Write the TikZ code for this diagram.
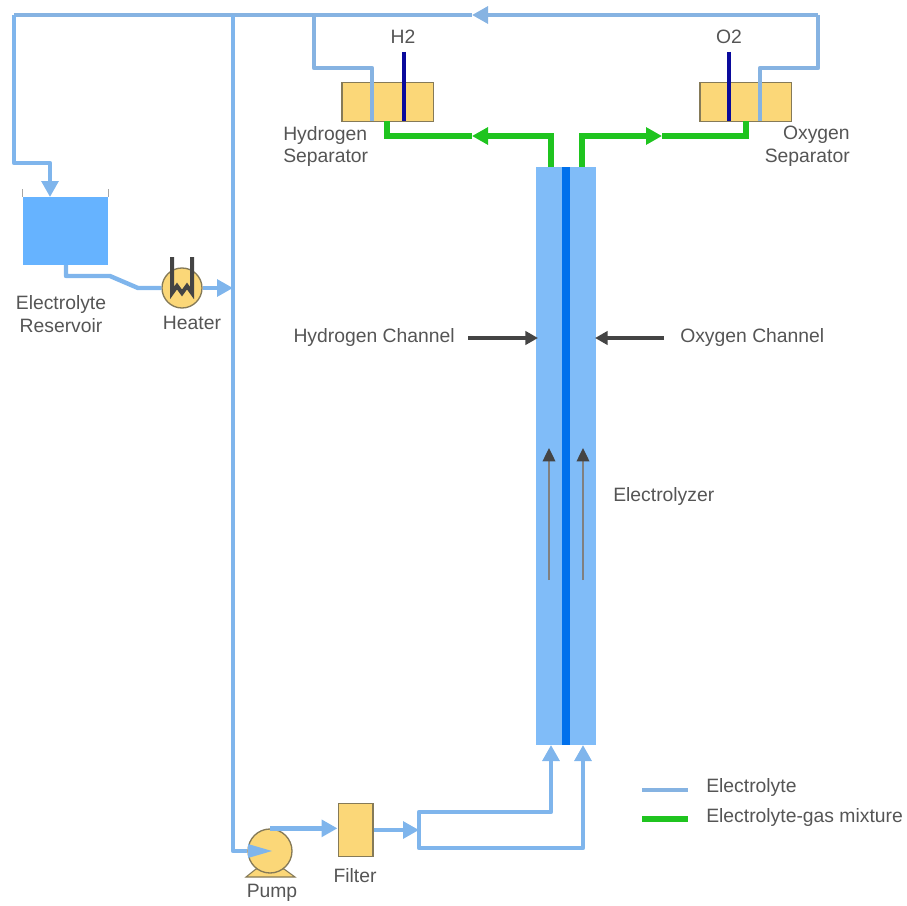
\documentclass[tikz,border=0pt]{standalone}
\usepackage{fontspec}
\setmainfont{Liberation Sans}
\usetikzlibrary{arrows.meta}
\definecolor{pipeblue}{HTML}{7FB5EC}
\definecolor{topblue}{HTML}{86B3E2}
\definecolor{cellblue}{HTML}{80BCF8}
\definecolor{tankblue}{HTML}{66B3FF}
\definecolor{coreblue}{HTML}{0070EC}
\definecolor{mixgreen}{HTML}{1FC41F}
\definecolor{partyellow}{HTML}{FBD778}
\definecolor{partedge}{HTML}{857A58}
\definecolor{rodblue}{HTML}{0A0A9C}
\definecolor{labelgray}{HTML}{555555}
\definecolor{markgray}{HTML}{444444}
\tikzset{
	part/.style={draw=partedge, fill=partyellow, line width=1pt, inner sep=0pt},
	sepbox/.style={part, minimum width=68.5pt, minimum height=29pt},
	pipe/.style={draw=pipeblue, line width=3.3pt, line join=round},
	toppipe/.style={draw=topblue, line width=3.3pt, line join=round},
	mixpipe/.style={draw=mixgreen, line width=3.8pt},
	flow/.style={-{Triangle[length=12pt, width=12.5pt]}},
	rod/.style={draw=rodblue, line width=3.2pt},
	callout/.style={draw=markgray, line width=3pt, -{Triangle[length=9.5pt, width=10pt]}},
	inner/.style={draw=gray, line width=1pt, -{Triangle[length=10pt, width=9.5pt, color=markgray]}},
	lbl/.style={text=labelgray, font=\fontsize{14.5}{17}\selectfont, inner sep=0pt},
}
\begin{document}
\begin{tikzpicture}[x=0.75pt, y=-0.75pt]
	\useasboundingbox (0,0) rectangle (907,906);
	% cell and vessels
	\node[fill=cellblue, minimum width=45pt, minimum height=433.5pt, inner sep=0pt] (cell) at (566,456) {};
	\node[fill=coreblue, minimum width=5.5pt, minimum height=433.5pt, inner sep=0pt] (core) at (566,456) {};
	\node[fill=tankblue, minimum width=64pt, minimum height=51pt, inner sep=0pt] (tank) at (65.5,231) {};
	\node[sepbox] (hsep) at (387.5,102) {};
	\node[sepbox] (osep) at (745.5,102) {};
	\node[part, minimum width=26pt, minimum height=40pt] (filter) at (355.5,830) {};
	\node[part, circle, minimum size=30pt] (heater) at (182,288) {};
	\draw[partedge, line width=0.8pt, fill=partyellow] (246,877) -- (256,869) -- (284,869) -- (295,877) -- cycle;
	\node[part, circle, minimum size=33pt] (pump) at (270,851) {};
	% tank rim
	\draw[gray!70, line width=0.6pt] (tank.north west) -- ++(0,-8) (tank.north east) -- ++(0,-8);
	% junctions
	\coordinate (topright) at (818,15);
	\coordinate (topmark) at (472,15);
	\coordinate (hbranch) at (314,15);
	\coordinate (mainbranch) at (233,15);
	\coordinate (topleft) at (14,15);
	\coordinate (tankturn) at (14,163);
	\coordinate (hport) at (372,121);
	\coordinate (oport) at (760,121);
	\coordinate (heaterjoin) at (233,288);
	\coordinate (splitin) at (419,830);
	\coordinate (cellh) at (551,745);
	\coordinate (cello) at (583,745);
	% electrolyte return
	\draw[toppipe, flow] (topright) -- (topmark);
	\draw[toppipe] (topmark) -- (topleft);
	\draw[toppipe] (topright) -- (818,68) -| (oport);
	\draw[toppipe] (hbranch) -- (314,68) -| (hport);
	\draw[pipe, flow] (topleft) -- (tankturn) -| (50,197);
	\draw[pipe] (mainbranch) |- (pump.west);
	\draw[pipe] (66,265) -- (66,276) -- (110,276) -- (138,288) -- (heater.west);
	\draw[pipe, flow] (heater.east) -- (heaterjoin);
	\draw[pipe, flow] (pump.north) -- (filter.west |- pump.north);
	\draw[pipe, flow] (filter.east) -- (splitin);
	\draw[pipe, flow] (splitin) |- (551,812) -- (cellh);
	\draw[pipe, flow] (splitin) |- (583,848) -- (cello);
	\fill[pipeblue] (272,851) -- (248,844) -- (248,858) -- cycle;
	% gas mixture
	\coordinate (hmark) at (472,136);
	\coordinate (omark) at (662,136);
	\draw[mixpipe, flow] (551,167) -- (551,136) -- (hmark);
	\draw[mixpipe] (hmark) -- (387,136) -- (387,121);
	\draw[mixpipe, flow] (582,167) -- (582,136) -- (omark);
	\draw[mixpipe] (omark) -- (746,136) -- (746,121);
	% gas outlets
	\draw[rod] (404,52) -- (404,121);
	\draw[rod] (729,52) -- (729,121);
	% heater coil
	\draw[markgray, line width=3pt, line join=miter] (172,257) -- (172,293) -- (177,286) -- (182,293) -- (187,286) -- (192,293) -- (192,257);
	% channel marks
	\coordinate (hchan) at (538,338);
	\coordinate (ochan) at (595,338);
	\node[lbl, anchor=east] (hlabel) at (455,337) {Hydrogen Channel};
	\node[lbl, anchor=west] (olabel) at (680,337) {Oxygen Channel};
	\draw[callout] (468,338) -- (hchan);
	\draw[callout] (664,338) -- (ochan);
	\draw[inner] (549,580) -- (549,448);
	\draw[inner] (583,580) -- (583,448);
	% labels
	\node[lbl] (h2) at (403,37) {H2};
	\node[lbl] (o2) at (729,37) {O2};
	\node[lbl, align=left, anchor=west] (hseplabel) at (283,146.5) {Hydrogen\\Separator};
	\node[lbl, align=right, anchor=east] (oseplabel) at (850,146.5) {Oxygen\\Separator};
	\node[lbl, align=center] (tanklabel) at (61,314) {Electrolyte\\Reservoir};
	\node[lbl] (heaterlabel) at (192,323) {Heater};
	\node[lbl] (pumplabel) at (272,893) {Pump};
	\node[lbl] (filterlabel) at (355,876) {Filter};
	\node[lbl, anchor=west] (celllabel) at (613,496) {Electrolyzer};
	% legend
	\coordinate (keya) at (642,790);
	\coordinate (keyb) at (642,819);
	\draw[toppipe] (keya) -- (688,790);
	\draw[mixpipe] (keyb) -- (688,819);
	\node[lbl, anchor=west] (keyalabel) at (706,787) {Electrolyte};
	\node[lbl, anchor=west] (keyblabel) at (706,817) {Electrolyte-gas mixture};
\end{tikzpicture}
\end{document}
